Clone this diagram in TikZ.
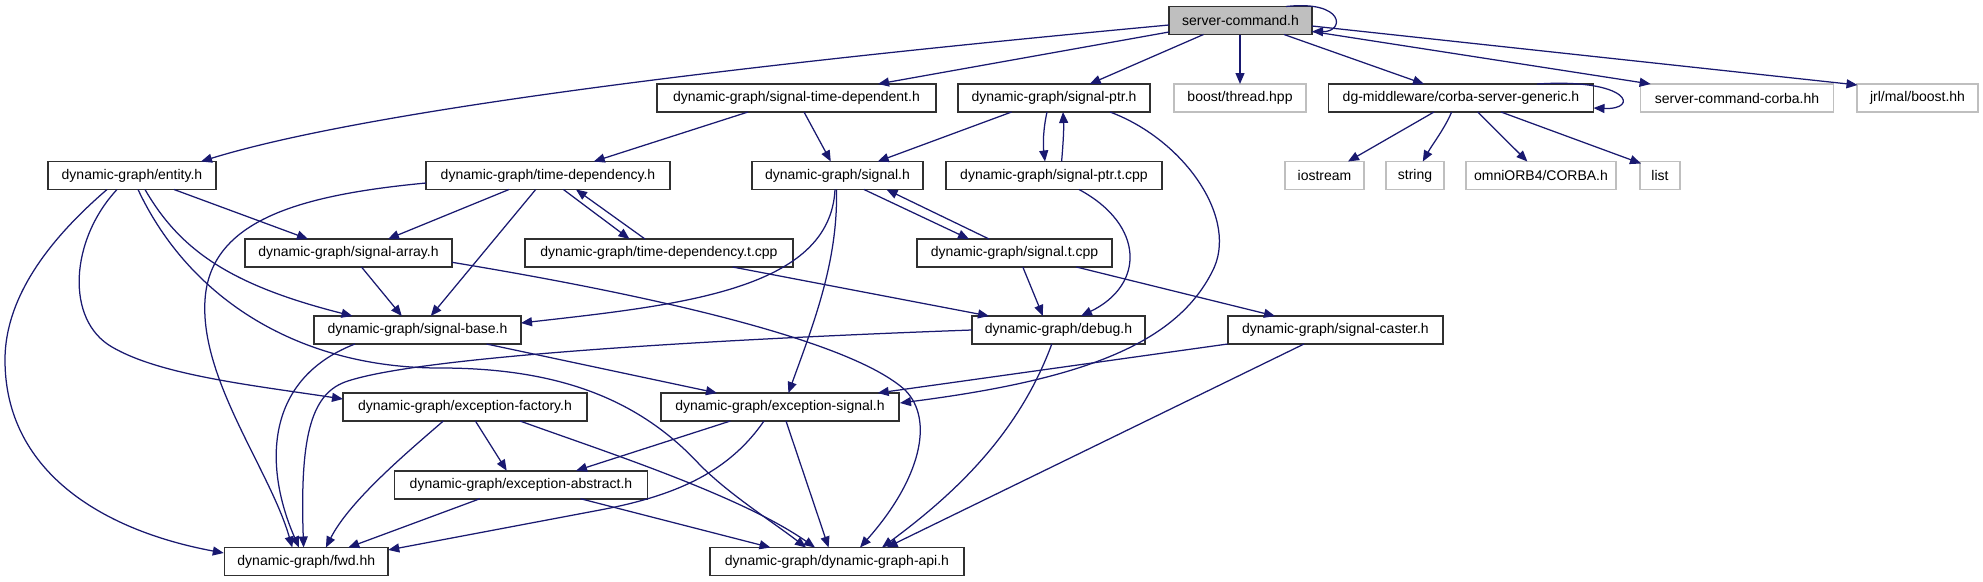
\documentclass[tikz,border=0pt]{standalone}
\usepackage{fontspec}
\setmainfont{Liberation Sans}
\usetikzlibrary{arrows.meta,calc}
\definecolor{edgec}{HTML}{191970}
\definecolor{graybox}{HTML}{BFBFBF}
\definecolor{boxline}{HTML}{303030}
\newcommand\dgfont{\fontsize{14}{16}\selectfont}
\tikzset{
  hbox/.style={draw=boxline, line width=1.6pt, minimum height=28pt, inner sep=0pt, font=\dgfont, anchor=center},
  gbox/.style={hbox, draw=graybox},
  edge/.style={draw=edgec, line width=1.25pt, -{Triangle[length=11pt,width=9pt]}},
}
\begin{document}
\begin{tikzpicture}[x=1pt,y=-1pt]
\useasboundingbox (0,0) rectangle (1983,581);
\fill[white] (0,0) rectangle (1983,581);
% row 0
\node[hbox,fill=graybox,minimum width=143pt] (SC) at (1240.5,20.5) {server-command.h};
% row 1
\node[hbox,minimum width=279pt] (STD) at (796.5,98) {dynamic-graph/signal-time-dependent.h};
\node[hbox,minimum width=192pt] (SP) at (1054,98) {dynamic-graph/signal-ptr.h};
\node[gbox,minimum width=131.5pt] (BT) at (1240,98) {boost/thread.hpp};
\node[hbox,minimum width=265pt] (DG) at (1461,98) {dg-middleware/corba-server-generic.h};
\node[gbox,minimum width=193pt] (SCC) at (1737,98) {server-command-corba.hh};
\node[gbox,minimum width=121pt] (JRL) at (1917.5,98) {jrl/mal/boost.hh};
% row 2
\node[hbox,minimum width=168pt] (E) at (132,175.5) {dynamic-graph/entity.h};
\node[hbox,minimum width=244.5pt] (TD) at (548,175.5) {dynamic-graph/time-dependency.h};
\node[hbox,minimum width=171pt] (S) at (837.5,175.5) {dynamic-graph/signal.h};
\node[hbox,minimum width=216.5pt] (SPT) at (1054,175.5) {dynamic-graph/signal-ptr.t.cpp};
\node[gbox,minimum width=79pt] (IO) at (1324.5,175.5) {iostream};
\node[gbox,minimum width=58pt] (STR) at (1415,175.5) {string};
\node[gbox,minimum width=150pt] (OMNI) at (1541,175.5) {omniORB4/CORBA.h};
\node[gbox,minimum width=40pt] (LST) at (1660,175.5) {list};
% row 3
\node[hbox,minimum width=207pt] (SA) at (348.5,253) {dynamic-graph/signal-array.h};
\node[hbox,minimum width=268pt] (TDT) at (659,253) {dynamic-graph/time-dependency.t.cpp};
\node[hbox,minimum width=195pt] (ST) at (1014.5,253) {dynamic-graph/signal.t.cpp};
% row 4
\node[hbox,minimum width=207pt] (SB) at (417.5,330) {dynamic-graph/signal-base.h};
\node[hbox,minimum width=173pt] (DBG) at (1058.5,330) {dynamic-graph/debug.h};
\node[hbox,minimum width=215pt] (SCA) at (1335.4,330) {dynamic-graph/signal-caster.h};
% row 5
\node[hbox,minimum width=243.6pt] (EF) at (465,407) {dynamic-graph/exception-factory.h};
\node[hbox,minimum width=237.7pt] (ES) at (780,407) {dynamic-graph/exception-signal.h};
% row 6
\node[hbox,minimum width=253pt] (EA) at (521,484.7) {dynamic-graph/exception-abstract.h};
% row 7
\node[hbox,minimum width=163.4pt] (FWD) at (306.3,561.5) {dynamic-graph/fwd.hh};
\node[hbox,minimum width=254pt] (API) at (837,561.5) {dynamic-graph/dynamic-graph-api.h};

% ---- edges from server-command.h
\draw[edge] ($(SC)+(45.5,-14)$) .. controls (1345,0) and (1345,32) .. ($(SC)+(71.5,11)$);
\draw[edge] ($(SC)+(-71.5,4.5)$) .. controls (900,50) and (400,100) .. ($(E)+(69,-14)$);
\draw[edge] ($(SC)+(-71.5,11.5)$) -- ($(STD)+(81.5,-14)$);
\draw[edge] ($(SC)+(-37,14)$) -- ($(SP)+(35.7,-14)$);
\draw[edge] ($(SC)+(-0.5,14)$) -- ($(BT)+(0,-14)$);
\draw[edge] ($(SC)+(43.5,14)$) -- ($(DG)+(-37,-14)$);
\draw[edge] ($(SC)+(71.5,11)$) -- ($(SCC)+(-86.4,-14)$);
\draw[edge] ($(SC)+(71.5,5.5)$) -- ($(JRL)+(-60,-13)$);
% ---- dg-middleware
\draw[edge] ($(DG)+(76,-14)$) .. controls (1630,78) and (1640,110) .. ($(DG)+(132.5,10)$);
\draw[edge] ($(DG)+(-27,14)$) -- ($(IO)+(23.5,-14)$);
\draw[edge] ($(DG)+(-9.4,14)$) .. controls (1445,128) and (1432,145) .. ($(STR)+(7.8,-14)$);
\draw[edge] ($(DG)+(16.7,14)$) -- ($(OMNI)+(-13.6,-14)$);
\draw[edge] ($(DG)+(40,14)$) -- ($(LST)+(-19,-12)$);
% ---- signal-time-dependent.h
\draw[edge] ($(STD)+(-48.5,14)$) -- ($(TD)+(45.75,-14)$);
\draw[edge] ($(STD)+(7.5,14)$) -- ($(S)+(-6.7,-14)$);
% ---- signal-ptr.h
\draw[edge] ($(SP)+(-42.4,14)$) -- ($(S)+(40.2,-14)$);
\draw[edge] ($(SP)+(-7,14)$) .. controls (1043,130) and (1043,145) .. ($(SPT)+(-9,-14)$);
\draw[edge] ($(SPT)+(7.6,-14)$) .. controls (1063,145) and (1064,130) .. ($(SP)+(9,14)$);
\draw[edge] ($(SP)+(56,14)$) .. controls (1185,140) and (1240,220) .. (1212,272)
   .. controls (1175,345) and (1080,380) .. ($(ES)+(120,-4)$);
\draw[edge] ($(SPT)+(25,14)$) .. controls (1145,225) and (1145,285) .. ($(DBG)+(22.5,-14)$);
% ---- entity.h
\draw[edge] ($(E)+(42,14)$) -- ($(SA)+(-40.5,-14)$);
\draw[edge] ($(E)+(-25,14)$) .. controls (60,230) and (5,290) .. (5,360)
   .. controls (5,470) and (100,530) .. ($(FWD)+(-82.5,-8.5)$);
\draw[edge] ($(E)+(-15,14)$) .. controls (70,240) and (65,320) .. (112,347)
   .. controls (160,375) and (250,385) .. ($(EF)+(-122,-8)$);
\draw[edge] ($(E)+(6,14)$) .. controls (190,300) and (300,368) .. (440,368)
   .. controls (560,368) and (640,400) .. (700,465)
   .. controls (730,495) and (770,520) .. ($(API)+(-31,-14)$);
\draw[edge] ($(E)+(13,14)$) .. controls (180,250) and (230,285) .. ($(SB)+(-65,-14)$);
% ---- time-dependency.h
\draw[edge] ($(TD)+(-122,7.5)$) .. controls (300,195) and (210,220) .. (205,300)
   .. controls (200,380) and (270,470) .. ($(FWD)+(-14,-14)$);
\draw[edge] ($(TD)+(-39,14)$) -- ($(SA)+(39.5,-14)$);
\draw[edge] ($(TD)+(-12.3,14)$) -- ($(SB)+(13.3,-14)$);
\draw[edge] ($(TD)+(15.4,14)$) -- ($(TDT)+(-29.5,-14)$);
\draw[edge] ($(TDT)+(-14,-14)$) -- ($(TD)+(28,14)$);
\draw[edge] ($(TDT)+(73.6,14)$) -- ($(DBG)+(-69.5,-14)$);
% ---- signal.h
\draw[edge] ($(S)+(-2.5,14)$) .. controls (830,290) and (680,305) .. ($(SB)+(103.5,-7)$);
\draw[edge] ($(S)+(-1,14)$) .. controls (838,260) and (815,320) .. ($(ES)+(8.4,-14)$);
\draw[edge] ($(S)+(26.5,14)$) -- ($(ST)+(-45.5,-14)$);
\draw[edge] ($(ST)+(-25.5,-14)$) -- ($(S)+(49,14)$);
\draw[edge] ($(ST)+(8.3,14)$) -- ($(DBG)+(-15.6,-14)$);
\draw[edge] ($(ST)+(61.8,14)$) -- ($(SCA)+(-60.4,-14)$);
% ---- signal-array.h
\draw[edge] ($(SA)+(13,14)$) -- ($(SB)+(-15.7,-14)$);
\draw[edge] ($(SA)+(103.5,9.3)$) .. controls (650,295) and (850,340) .. (905,390)
   .. controls (935,420) and (920,480) .. ($(API)+(23,-14)$);
% ---- signal-base.h
\draw[edge] ($(SB)+(-62.5,14)$) .. controls (262,380) and (265,470) .. ($(FWD)+(-7.3,-14)$);
\draw[edge] ($(SB)+(69,14)$) -- ($(ES)+(-63,-14)$);
% ---- debug.h
\draw[edge] ($(DBG)+(-86.5,0)$) .. controls (750,338) and (420,355) .. (345,382)
   .. controls (310,395) and (300,440) .. ($(FWD)+(-2.7,-14)$);
\draw[edge] ($(DBG)+(-6.7,14)$) .. controls (1020,430) and (960,490) .. ($(API)+(45,-14)$);
% ---- signal-caster.h
\draw[edge] ($(SCA)+(-107.7,14)$) -- ($(ES)+(97.7,-14)$);
\draw[edge] ($(SCA)+(-31.4,14)$) -- ($(API)+(49.6,-14)$);
% ---- exception-factory.h
\draw[edge] ($(EF)+(-21.7,14)$) .. controls (410,450) and (350,500) .. ($(FWD)+(19.6,-14)$);
\draw[edge] ($(EF)+(10.4,14)$) -- ($(EA)+(-14.3,-14)$);
\draw[edge] ($(EF)+(55,14)$) .. controls (600,450) and (740,495) .. ($(API)+(-22,-14)$);
% ---- exception-signal.h
\draw[edge] ($(ES)+(-49.6,14)$) -- ($(EA)+(55,-14)$);
\draw[edge] ($(ES)+(-16,14)$) .. controls (730,470) and (680,495) .. (600,510) -- ($(FWD)+(82,-11.5)$);
\draw[edge] ($(ES)+(6,14)$) -- ($(API)+(-8.4,-14)$);
% ---- exception-abstract.h
\draw[edge] ($(EA)+(-41,14)$) -- ($(FWD)+(42,-14)$);
\draw[edge] ($(EA)+(59.4,14)$) -- ($(API)+(-66.5,-14)$);
\end{tikzpicture}
\end{document}
